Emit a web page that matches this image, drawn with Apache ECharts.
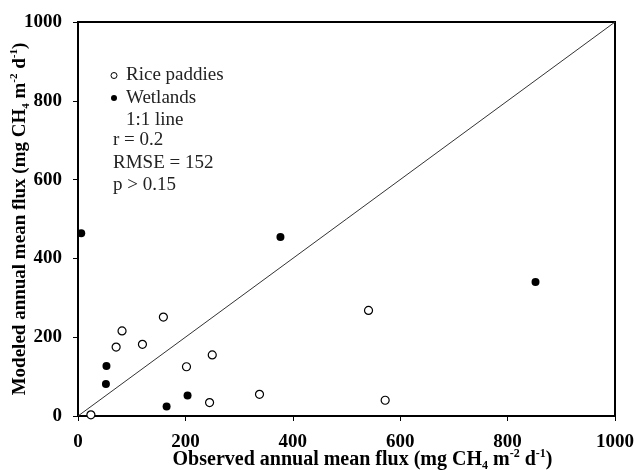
<!DOCTYPE html>
<html><head><meta charset="utf-8">
<script src="https://cdn.jsdelivr.net/npm/echarts@6/dist/echarts.min.js"></script>
<style>html,body{margin:0;padding:0;background:#fff}#c{width:634px;height:470px}</style>
</head><body><div id="c"></div>
<script>
var riceObserved = [24, 71, 82, 120, 159, 202, 250, 245, 338, 541, 572];
var riceModeled  = [3, 175, 216, 182, 251, 125, 155, 34, 55, 268, 40];
var wetObserved  = [6, 377, 53, 52, 165, 204, 852];
var wetModeled   = [464, 454, 127, 81, 24, 52, 340];
var oneToOne = [[0, 0], [1000, 1000]];
var axisTicks = [0, 200, 400, 600, 800, 1000];
var statsLines = ['r = 0.2', 'RMSE = 152', 'p > 0.15'];

function pairs(a, b) { return a.map(function (v, i) { return [v, b[i]]; }); }

var FONT = '"Liberation Serif", "Times New Roman", serif';
function richName(size, small) {
  return {
    n: {fontFamily: FONT, fontWeight: 'bold', fontSize: size, lineHeight: size + 4, color: '#000'},
    sub: {fontFamily: FONT, fontWeight: 'bold', fontSize: small, lineHeight: small, verticalAlign: 'bottom', color: '#000'},
    sup: {fontFamily: FONT, fontWeight: 'bold', fontSize: small, lineHeight: small, verticalAlign: 'top', color: '#000'}
  };
}

var chart = echarts.init(document.getElementById('c'), null, {renderer: 'canvas'});
chart.setOption({
  animation: false,
  backgroundColor: '#fff',
  grid: {left: 78, right: 19, top: 22, bottom: 54, show: true, borderColor: '#000', borderWidth: 2,
    containLabel: false, outerBoundsMode: 'none'},
  legend: {
    orient: 'vertical', left: 107, top: 66, padding: 0, itemWidth: 14, itemHeight: 6, itemGap: 3.5,
    textStyle: {fontFamily: FONT, fontSize: 19, color: '#222', padding: [0, 0, 0, 0]},
    data: [
      {name: 'Rice paddies', icon: 'circle', itemStyle: {color: '#fff', borderColor: '#000', borderWidth: 1}},
      {name: 'Wetlands', icon: 'circle', itemStyle: {color: '#000'}},
      {name: '1:1 line', icon: 'rect', itemStyle: {opacity: 0}}
    ]
  },
  graphic: [{
    type: 'text', left: 113, top: 129,
    style: {text: statsLines.join('\n'), font: '19px ' + FONT, lineHeight: 22.5, fill: '#222'}
  }],
  xAxis: {
    type: 'value', min: 0, max: 1000, interval: 200,
    axisLine: {lineStyle: {color: '#000', width: 2}},
    axisTick: {show: true, inside: false, length: 5, lineStyle: {color: '#000', width: 1}},
    splitLine: {show: false},
    axisLabel: {fontFamily: FONT, fontWeight: 'bold', fontSize: 19, color: '#000', margin: 17,
      formatter: function (v) { return axisTicks.indexOf(v) >= 0 ? String(v) : ''; }},
    name: '{n|Observed annual mean flux (mg CH}{sub|4}{n| m}{sup|-2}{n| d}{sup|-1}{n|)}',
    nameLocation: 'middle', nameGap: 32, nameMoveOverlap: false,
    nameTextStyle: {rich: richName(20, 12), padding: [0, 0, 0, 32]}
  },
  yAxis: {
    type: 'value', min: 0, max: 1000, interval: 200,
    axisLine: {lineStyle: {color: '#000', width: 2}},
    axisTick: {show: true, inside: false, length: 5, lineStyle: {color: '#000', width: 1}},
    splitLine: {show: false},
    axisLabel: {fontFamily: FONT, fontWeight: 'bold', fontSize: 19, color: '#000', margin: 16,
      formatter: function (v) { return axisTicks.indexOf(v) >= 0 ? String(v) : ''; }},
    name: '{n|Modeled annual mean flux (mg CH}{sub|4}{n| m}{sup|-2}{n| d}{sup|-1}{n|)}',
    nameLocation: 'middle', nameGap: 46, nameRotate: 90, nameMoveOverlap: false,
    nameTextStyle: {rich: richName(19, 11)}
  },
  series: [
    {name: 'Rice paddies', type: 'scatter', symbol: 'circle', symbolSize: 8,
      itemStyle: {color: '#fff', borderColor: '#000', borderWidth: 1.2, opacity: 1},
      data: pairs(riceObserved, riceModeled), z: 3},
    {name: 'Wetlands', type: 'scatter', symbol: 'circle', symbolSize: 8,
      itemStyle: {color: '#000', opacity: 1},
      data: pairs(wetObserved, wetModeled), z: 3},
    {name: '1:1 line', type: 'line', symbol: 'none', data: oneToOne,
      lineStyle: {color: '#333', width: 1}, z: 2, silent: true}
  ]
});
</script></body></html>
